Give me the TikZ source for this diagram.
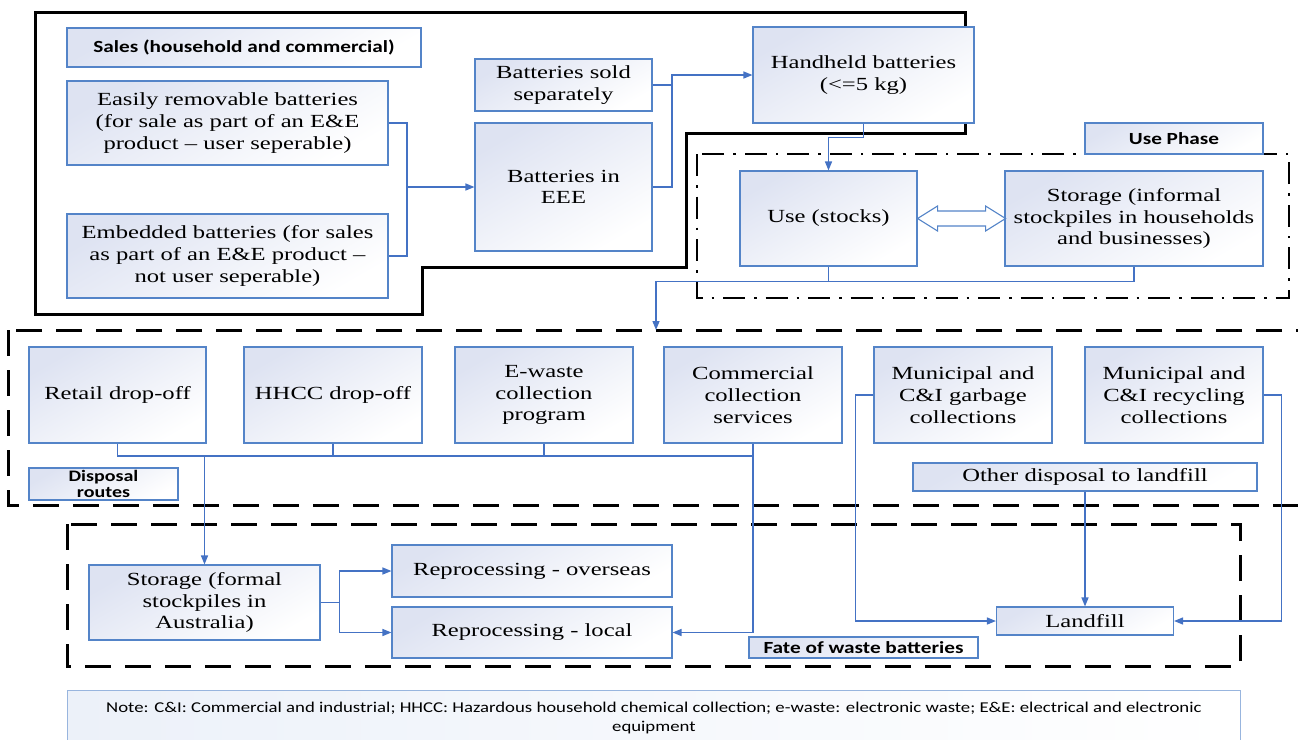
\documentclass[tikz,border=0pt]{standalone}
\usepackage{fontspec}
\setmainfont{Liberation Serif}[FakeStretch=1.33]
\newfontfamily\lblfont{Carlito}[FakeStretch=1.25]
\usetikzlibrary{arrows.meta}

\definecolor{boxblue}{RGB}{84,132,200}
\definecolor{linkblue}{RGB}{68,114,196}
\definecolor{boxgrad}{RGB}{222,227,242}
\definecolor{notegrad}{RGB}{236,241,249}

\tikzset{
	procbox/.style={draw=boxblue, line width=1.1pt, top color=boxgrad, bottom color=white, shading angle=30,
		align=center, inner sep=2pt, font=\fontsize{18.5}{21.7}\selectfont},
	labelbox/.style={procbox, font=\lblfont\bfseries\fontsize{17}{17}\selectfont},
	link/.style={draw=linkblue, line width=1.4pt},
	linkarr/.style={link, -{Triangle[length=9pt,width=7pt]}},
	region/.style={line width=3pt, black},
}

\begin{document}
\begin{tikzpicture}[x=1pt,y=-1pt]
	\useasboundingbox (0,0) rectangle (1298,739);

	% regions
	\draw[region, line join=miter] (35,12) -- (965,12) -- (965,133) -- (686,133) -- (686,267) -- (422,267) -- (422,314) -- (35,314) -- cycle;
	\draw[region, line width=2.5pt, dash pattern=on 22pt off 9pt on 2.5pt off 9pt] (697,154) rectangle (1289,298);
	\draw[region, dash pattern=on 26pt off 14pt] (8,330) rectangle (1330,505);
	\draw[region, dash pattern=on 26pt off 14pt] (67,524) rectangle (1240,666);

	% sales
	\node[labelbox, minimum width=354pt, minimum height=39pt] (salesLbl) at (244,47.5) {Sales (household and commercial)};
	\node[procbox, minimum width=321pt, minimum height=84pt] (removable) at (227.5,123) {Easily removable batteries\\(for sale as part of an E\&E\\product -- user seperable)};
	\node[procbox, minimum width=321pt, minimum height=84pt] (embedded) at (227.5,256) {Embedded batteries (for sales\\as part of an E\&E product --\\not user seperable)};
	\node[procbox, minimum width=177pt, minimum height=52pt] (soldSep) at (563.5,85) {Batteries sold\\separately};
	\node[procbox, minimum width=177pt, minimum height=128pt] (inEEE) at (563.5,187) {Batteries in\\EEE};
	\node[procbox, minimum width=221pt, minimum height=96pt] (handheld) at (863.5,75) {Handheld batteries\\(<=5 kg)};

	% use phase
	\node[labelbox, minimum width=178pt, minimum height=31pt] (useLbl) at (1174,138.5) {Use Phase};
	\node[procbox, minimum width=177pt, minimum height=95pt] (use) at (828.5,218.5) {Use (stocks)};
	\node[procbox, minimum width=258pt, minimum height=95pt] (storeInf) at (1134,218.5) {Storage (informal\\stockpiles in households\\and businesses)};
	\draw[draw=boxblue, line width=1.1pt, fill=white] (use.east) -- ++(20,-12.5) -- ++(0,5) -- ++(48,0) -- ++(0,-5) -- ++(20,12.5)
		-- ++(-20,12.5) -- ++(0,-5) -- ++(-48,0) -- ++(0,5) -- cycle;

	% disposal routes
	\node[procbox, minimum width=177pt, minimum height=96pt] (retail) at (117.5,395) {Retail drop-off};
	\node[procbox, minimum width=178pt, minimum height=96pt] (hhcc) at (333,395) {HHCC drop-off};
	\node[procbox, minimum width=178pt, minimum height=96pt] (ewaste) at (544,395) {E-waste\\collection\\program};
	\node[procbox, minimum width=178pt, minimum height=96pt] (commercial) at (753,395) {Commercial\\collection\\services};
	\node[procbox, minimum width=178pt, minimum height=96pt] (garbage) at (963,395) {Municipal and\\C\&I garbage\\collections};
	\node[procbox, minimum width=178pt, minimum height=96pt] (recycling) at (1174,395) {Municipal and\\C\&I recycling\\collections};
	\node[labelbox, minimum width=149pt, minimum height=32pt, inner sep=0pt, font=\lblfont\bfseries\fontsize{16}{16}\selectfont] (dispLbl) at (103.5,484) {Disposal\\routes};
	\node[procbox, minimum width=344pt, minimum height=28pt] (otherDisp) at (1085,477) {Other disposal to landfill};

	% fate
	\node[procbox, minimum width=231pt, minimum height=75pt] (storeFormal) at (204.5,602.5) {Storage (formal\\stockpiles in\\Australia)};
	\node[procbox, minimum width=280pt, minimum height=52pt] (reprOver) at (532,571) {Reprocessing - overseas};
	\node[procbox, minimum width=280pt, minimum height=51pt] (reprLocal) at (532,632.5) {Reprocessing - local};
	\node[procbox, minimum width=177pt, minimum height=28pt] (landfill) at (1085,621) {Landfill};
	\node[labelbox, minimum width=229pt, minimum height=21pt, inner sep=0pt] (fateLbl) at (863.5,647.5) {Fate of waste batteries};

	% note
	\node[draw=boxblue!60, line width=0.8pt, left color=notegrad, right color=white, minimum width=1173pt, minimum height=55pt,
		anchor=north west, align=center, font=\lblfont\fontsize{15}{19}\selectfont] (note) at (67,690)
		{Note: C\&I: Commercial and industrial; HHCC: Hazardous household chemical collection; e-waste: electronic waste; E\&E: electrical and electronic\\equipment};

	% connectors
	\coordinate (salesJoin) at (407,187);
	\draw[link] (removable.east) -| (salesJoin) |- (embedded.east);
	\draw[linkarr] (salesJoin) -- (inEEE.west);

	\coordinate (hhJoin) at (672,75);
	\draw[link] (soldSep.east) -- (soldSep.east -| hhJoin);
	\draw[linkarr] (inEEE.east) -| (hhJoin) -- (handheld.west);
	\draw[linkarr] (handheld.south) -- ++(0,14) -| (use.north);

	\coordinate (dispIn) at (656,330);
	\draw[link] (use.south) -- ++(0,15);
	\draw[linkarr] (storeInf.south) -- ++(0,15) -| (dispIn);

	\coordinate (collBus) at (753,456);
	\draw[link] (retail.south) |- (collBus);
	\draw[link] (hhcc.south) -- (hhcc.south |- collBus);
	\draw[link] (ewaste.south) -- (ewaste.south |- collBus);
	\draw[linkarr] (storeFormal.north |- collBus) -- (storeFormal.north);
	\draw[linkarr] (commercial.south) |- (reprLocal.east);

	\draw[linkarr] (storeFormal.east) -- ++(19,0) |- (reprOver.west);
	\draw[linkarr] (storeFormal.east) -- ++(19,0) |- (reprLocal.west);

	\draw[linkarr] (garbage.west) -- ++(-18,0) |- (landfill.west);
	\draw[linkarr] (recycling.east) -- ++(18,0) |- (landfill.east);
	\draw[linkarr] (otherDisp.south) -- (landfill.north);
\end{tikzpicture}
\end{document}
